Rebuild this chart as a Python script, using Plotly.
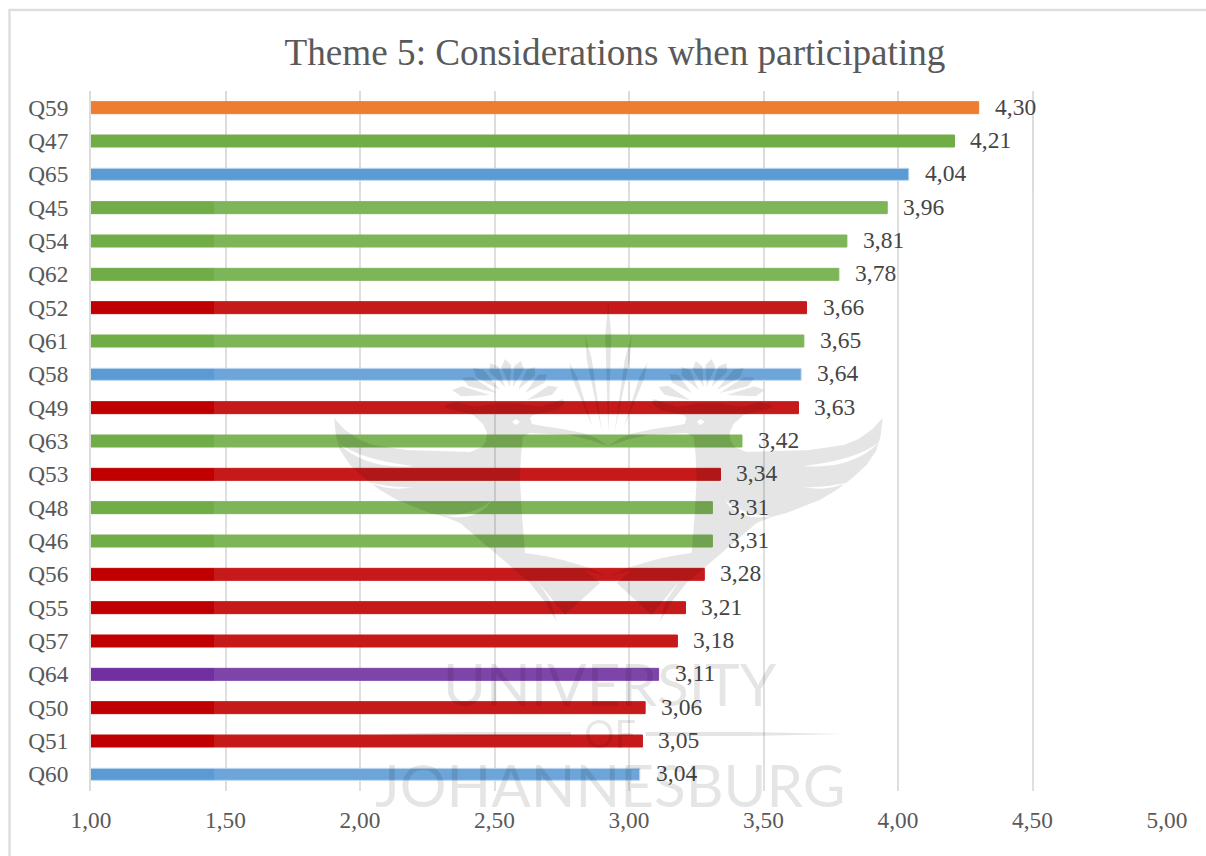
import plotly.graph_objects as go

# Survey questions, top of the chart first, with their mean scores and item groups
questions = ["Q59", "Q47", "Q65", "Q45", "Q54", "Q62", "Q52", "Q61", "Q58", "Q49", "Q63",
             "Q53", "Q48", "Q46", "Q56", "Q55", "Q57", "Q64", "Q50", "Q51", "Q60"]
mean_scores = [4.30, 4.21, 4.04, 3.96, 3.81, 3.78, 3.66, 3.65, 3.64, 3.63, 3.42,
               3.34, 3.31, 3.31, 3.28, 3.21, 3.18, 3.11, 3.06, 3.05, 3.04]
item_groups = ["orange", "green", "blue", "green", "green", "green", "red", "green", "blue", "red", "green",
               "red", "green", "green", "red", "red", "red", "purple", "red", "red", "blue"]
group_colours = {"orange": "#ED7D31", "green": "#70AD47", "blue": "#5B9BD5",
                 "red": "#C00000", "purple": "#7030A0"}
outline_colours = {"blue": "#BDD7EE"}
x_ticks = [1.0, 1.5, 2.0, 2.5, 3.0, 3.5, 4.0, 4.5, 5.0]

WIDTH, HEIGHT = 1206, 856
PLOT_L, PLOT_R, PLOT_T, PLOT_B = 91, 1167, 91, 791
SERIF = "Liberation Serif"
WATERMARK = "rgba(0,0,0,0.10)"
AXIS_MIDDLE = 608.3


def to_paper(px, py):
    """Canvas pixels to paper fractions."""
    return (px - PLOT_L) / (PLOT_R - PLOT_L), (PLOT_B - py) / (PLOT_B - PLOT_T)


def pt(px, py):
    x, y = to_paper(px, py)
    return f"{x:.5f},{y:.5f}"


def poly(points):
    return "M" + " L".join(pt(*p) for p in points) + " Z"


def crescent(a, c1, b, c2):
    return f"M{pt(*a)} Q{pt(*c1)} {pt(*b)} Q{pt(*c2)} {pt(*a)} Z"


def mirror(points):
    return [(2 * AXIS_MIDDLE - x, y) for x, y in points]


def paper_shape(path, **extra):
    return dict(type="path", xref="paper", yref="paper", path=path, layer="above",
                fillcolor=WATERMARK, line=dict(width=0), **extra)


# Half of the crest outline: beak, head, wing, then tail and back up the inner edge
BIRD = [(608.3, 446), (596, 438), (583, 433), (563, 429), (543, 426), (532, 424), (530, 418), (533, 415),
        (557, 410), (565, 403), (563, 399), (540, 407), (517, 403), (497, 403), (475, 407), (457, 402),
        (445, 405), (445, 408), (473, 415), (483, 424), (487, 433), (486, 441), (482, 447), (470, 452),
        (407, 450), (373, 445), (358, 439), (344, 429), (334, 418), (336, 436), (340, 450), (350, 465),
        (363, 477), (380, 490), (397, 500), (430, 513), (445, 517), (460, 523), (530, 583), (545, 602),
        (557, 622), (550, 600), (538, 582), (565, 615), (600, 583), (585, 570), (608.3, 577), (590, 568),
        (563, 560), (545, 556), (525, 553), (522, 515), (520, 480), (521, 455), (523, 437),
        (530, 433), (570, 435), (590, 440)]
NOTCHES = [((337, 442), (360, 460), (413, 466), (365, 470)),
           ((368, 482), (390, 488), (413, 487), (390, 492)),
           ((445, 516), (475, 515), (492, 500), (478, 522))]
FEATHERS = [((452, 390), (490, 395)), ((462, 378), (497, 393)), ((473, 368), (500, 390)),
            ((490, 363), (505, 387)), ((505, 359), (510, 387)), ((521, 361), (513, 387)),
            ((535, 367), (518, 390)), ((547, 374), (525, 393)), ((558, 387), (527, 400))]
PLUMES = [((585, 335), (602, 432)), ((569, 362), (593, 428))]


def feather(tip, base, half):
    nx, ny = base[1] - tip[1], tip[0] - base[0]
    size = (nx * nx + ny * ny) ** 0.5
    nx, ny = nx / size * half, ny / size * half
    mx, my = tip[0] * 0.75 + base[0] * 0.25, tip[1] * 0.75 + base[1] * 0.25
    return poly([tip, (mx + nx, my + ny), base, (mx - nx, my - ny)])


crest_shapes = []
for flip in (False, True):
    side = mirror if flip else (lambda pts: pts)
    outline = poly(side(BIRD))
    for a, c1, b, c2 in NOTCHES:
        p = side([a, c1, b, c2])
        outline += " " + crescent(*p)
    eye = side([(516, 419), (520, 422), (516, 425), (512, 422)])
    outline += " " + poly(eye)
    crest_shapes.append(paper_shape(outline, fillrule="evenodd"))
    for tip, base in FEATHERS:
        t, b = side([tip, base])
        crest_shapes.append(paper_shape(feather(t, b, 5)))
    for tip, base in PLUMES:
        t, b = side([tip, base])
        crest_shapes.append(paper_shape(feather(t, b, 2.5)))
    rule = side([(374, 734), (470, 732), (571, 732), (571, 736), (470, 736)])
    crest_shapes.append(paper_shape(poly(rule)))
crest_shapes.append(paper_shape(feather((AXIS_MIDDLE, 302), (AXIS_MIDDLE, 433), 3)))

# White veil of the background layer, which pales everything below and right of its corner
x0, y0 = to_paper(214, 190)
x1, y1 = to_paper(WIDTH, PLOT_B)
veil = dict(type="rect", xref="paper", yref="paper", x0=x0, y0=y0, x1=x1, y1=y1, layer="above",
            fillcolor="rgba(255,255,255,0.10)", line=dict(width=0))

# Outer chart frame, running off the right and bottom of the canvas
fx0, fy0 = to_paper(9.5, 10)
fx1, fy1 = to_paper(WIDTH + 5, HEIGHT + 5)
frame = dict(type="rect", xref="paper", yref="paper", x0=fx0, y0=fy0, x1=fx1, y1=fy1, layer="below",
             fillcolor="rgba(0,0,0,0)", line=dict(color="#DEDEDE", width=2.5))

fig = go.Figure(go.Bar(
    x=mean_scores,
    y=questions,
    orientation="h",
    width=0.36,
    marker=dict(color=[group_colours[g] for g in item_groups],
                line=dict(color=[outline_colours.get(g, group_colours[g]) for g in item_groups], width=1)),
    hoverinfo="x+y",
))

annotations = [dict(x=v, y=q, xref="x", yref="y", text=f"{v:.2f}".replace(".", ","), showarrow=False,
                    xanchor="left", xshift=14, yshift=1, font=dict(family=SERIF, size=23.5, color="#454545"))
               for q, v in zip(questions, mean_scores)]


def watermark_text(label, px, py, size):
    x, y = to_paper(px, py)
    return dict(x=x, y=y, xref="paper", yref="paper", text=label, showarrow=False,
                xanchor="center", yanchor="middle",
                font=dict(family="Lato", size=size, color=WATERMARK))


annotations += [watermark_text("UNIVERSITY", 610, 683, 58.5),
                watermark_text("OF", 610, 733, 38),
                watermark_text("JOHANNESBURG", 610, 784, 58.5)]

fig.update_layout(
    width=WIDTH, height=HEIGHT, autosize=False,
    margin=dict(l=PLOT_L, r=WIDTH - PLOT_R, t=PLOT_T, b=HEIGHT - PLOT_B, pad=0),
    paper_bgcolor="white", plot_bgcolor="white",
    separators=", ",
    showlegend=False,
    title=dict(text="Theme 5: Considerations when participating", x=615 / WIDTH, xanchor="center",
               y=1 - 52 / HEIGHT, yanchor="middle", font=dict(family=SERIF, size=37.2, color="#595959")),
    shapes=[frame, veil] + crest_shapes,
    annotations=annotations,
    xaxis=dict(range=[1, 5], tickvals=x_ticks, tickformat=".2f", showgrid=True, gridcolor="#DCDCDC", gridwidth=2,
               zeroline=False, showline=False, ticks="outside", ticklen=8, tickcolor="rgba(0,0,0,0)",
               tickfont=dict(family=SERIF, size=23.3, color="#595959")),
    yaxis=dict(autorange="reversed", type="category", showgrid=False, zeroline=False,
               showline=True, linecolor="#DCDCDC", linewidth=2,
               ticks="outside", ticklen=16, tickcolor="rgba(0,0,0,0)",
               tickfont=dict(family=SERIF, size=23.3, color="#595959")),
)

fig.write_html("out.html", config=dict(displayModeBar=False))
